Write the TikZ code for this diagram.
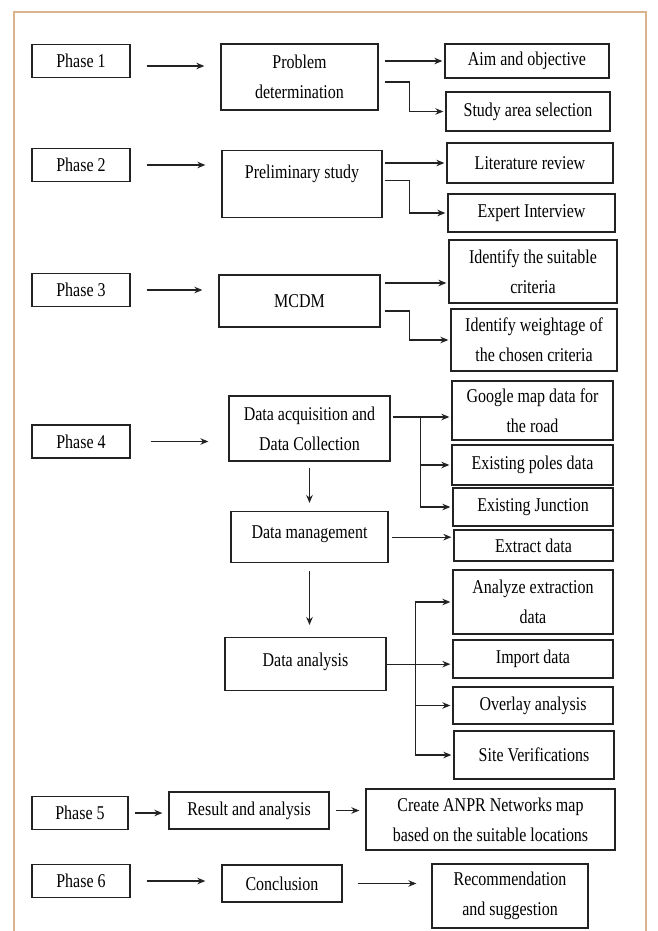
\documentclass[tikz,border=0pt]{standalone}
\usepackage{fontspec}
\setmainfont{Liberation Serif}[FakeStretch=0.82]
\usepackage{tikz}
\usetikzlibrary{arrows.meta, positioning}
\definecolor{framecol}{HTML}{D9B48E}
\definecolor{inkcol}{HTML}{222222}

\begin{document}
\begin{tikzpicture}[x=1pt, y=-1pt,
  box/.style={rectangle, draw=inkcol, line width=1.3pt, align=center,
              inner ysep=2pt, text=black,
              font=\fontsize{19.5}{30}\selectfont},
  phase/.style={box, minimum width=98pt, minimum height=33pt},
  topbox/.style={box, anchor=north, inner ysep=0pt},
  arr/.style={-{Stealth[length=8pt, width=6.5pt]}, line width=1.2pt,
              draw=inkcol, shorten >=2pt},
  gap/.style={shorten <=#1, shorten >=#1},
  frame/.style={draw=framecol, line width=2.4pt}
]
\fill[white] (0,0) rectangle (658,931);
\useasboundingbox (0,0) rectangle (658,931);
\draw[frame] (14,12) rectangle (646,936);
% phases
\node[phase] (p1) at (81,61)    {Phase 1};
\node[phase] (p2) at (81,165)   {Phase 2};
\node[phase] (p3) at (81,290)   {Phase 3};
\node[phase] (p4) at (81,441.5) {Phase 4};
\node[phase, minimum width=96pt] (p5) at (80,813) {Phase 5};
\node[phase] (p6) at (81,881)   {Phase 6};
% steps
\node[box, minimum width=157pt, minimum height=66pt] (prob) at (299.5,77)
  {Problem\\determination};
\node[topbox, minimum width=160pt, text height=27.5pt, text depth=39.5pt]
  (prelim) at (302,150) {Preliminary study};
\node[box, minimum width=161pt, minimum height=52pt] (mcdm) at (299.5,301)
  {MCDM};
\node[box, minimum width=161pt, minimum height=65pt] (acq) at (309.5,428.5)
  {Data acquisition and\\Data Collection};
\node[topbox, minimum width=157pt, text height=26.5pt, text depth=24.5pt]
  (mgmt) at (309.5,511) {Data management};
\node[topbox, minimum width=161pt, text height=28.5pt, text depth=24.5pt]
  (anal) at (305.5,637) {Data analysis};
\node[box, minimum width=160pt, minimum height=37pt] (result) at (249,810.5)
  {Result and analysis};
\node[box, minimum width=120pt, minimum height=37pt] (concl) at (282,883.5)
  {Conclusion};
% outcomes
\node[box, minimum width=164pt, minimum height=34pt] (aim) at (527,61)
  {Aim and objective};
\node[box, minimum width=164pt, minimum height=39pt] (area) at (528,111.5)
  {Study area selection};
\node[box, minimum width=166pt, minimum height=40pt] (lit) at (530,163)
  {Literature review};
\node[box, minimum width=167pt, minimum height=38pt] (expert) at (531.5,213)
  {Expert Interview};
\node[box, minimum width=168pt, minimum height=63pt] (crit) at (533,271.5)
  {Identify the suitable\\criteria};
\node[box, minimum width=166pt, minimum height=62pt] (weight) at (534,340)
  {Identify weightage of\\the chosen criteria};
\node[box, minimum width=161pt, minimum height=59pt] (gmap) at (532.5,410.5)
  {Google map data for\\the road};
\node[box, minimum width=161pt, minimum height=40pt] (poles) at (532.5,465)
  {Existing poles data};
\node[box, minimum width=160pt, minimum height=38pt] (junc) at (533,507)
  {Existing Junction};
\node[box, minimum width=159pt, minimum height=31pt] (extract) at (533.5,545.5)
  {Extract data};
\node[box, minimum width=160pt, minimum height=64pt] (analyze) at (533,602)
  {Analyze extraction\\data};
\node[box, minimum width=160pt, minimum height=38pt] (import) at (533,659)
  {Import data};
\node[box, minimum width=160pt, minimum height=37pt] (overlay) at (533,705.5)
  {Overlay analysis};
\node[box, minimum width=160pt, minimum height=48pt] (site) at (534,755)
  {Site Verifications};
\node[box, minimum width=249pt, minimum height=61pt] (anpr) at (490.5,819.5)
  {Create ANPR Networks map\\based on the suitable locations};
\node[box, minimum width=156pt, minimum height=64pt] (recom) at (510,896)
  {Recommendation\\and suggestion};
% phase to step
\draw[arr, gap=16pt] ([yshift=-5pt]p1.east) -- ([yshift=-5pt]p1.east -| prob.west);
\draw[arr, gap=16pt] (p2.east) -- (p2.east -| prelim.west);
\draw[arr, gap=16pt] (p3.east) -- (p3.east -| mcdm.west);
\draw[arr, gap=20pt] (p4.east) -- (p4.east -| acq.west);
\draw[arr, gap=6pt] (p5.east) -- (p5.east -| result.west);
\draw[arr, gap=16pt] (p6.east) -- (p6.east -| concl.west);
\draw[arr, gap=6pt] (result.east) -- (result.east -| anpr.west);
\draw[arr, gap=15pt] (concl.east) -- (concl.east -| recom.west);
% step to outcomes
\draw[arr, shorten <=6pt] (prob.east |- aim.west) -- (aim.west);
\draw[arr, shorten <=6pt] ([yshift=-5pt]prob.east)
  -| ([xshift=-36pt]area.west) -- (area.west);
\draw[arr, shorten <=2pt] (prelim.east |- lit.west) -- (lit.west);
\draw[arr, shorten <=2pt] ([yshift=3.5pt]prelim.east)
  -| ([xshift=-38pt]expert.west) -- (expert.west);
\draw[arr, shorten <=4pt] ([yshift=18pt]mcdm.east)
  -- ([yshift=18pt]mcdm.east -| crit.west);
\draw[arr, shorten <=4pt] ([yshift=-10pt]mcdm.east)
  -| ([xshift=-41pt]weight.west) -- (weight.west);
\draw[arr, shorten <=2pt] ([yshift=11.5pt]acq.east)
  -- ([yshift=11.5pt]acq.east -| gmap.west);
\foreach \n in {poles, junc}
  \draw[arr] ([xshift=30pt, yshift=11.5pt]acq.east) |- (\n.west);
\draw[arr, shorten <=6pt, shorten >=8pt] (acq.south) -- (mgmt.north);
\draw[arr, shorten <=3pt] (mgmt.east) -- (mgmt.east -| extract.west);
\draw[arr, shorten <=8pt, shorten >=12pt] (mgmt.south) -- (mgmt.south |- anal.north);
\draw[arr] (anal.east) -- (anal.east -| import.west);
\foreach \n in {analyze, overlay, site}
  \draw[arr] ([xshift=29pt]anal.east) |- (\n.west);
\end{tikzpicture}
\end{document}
